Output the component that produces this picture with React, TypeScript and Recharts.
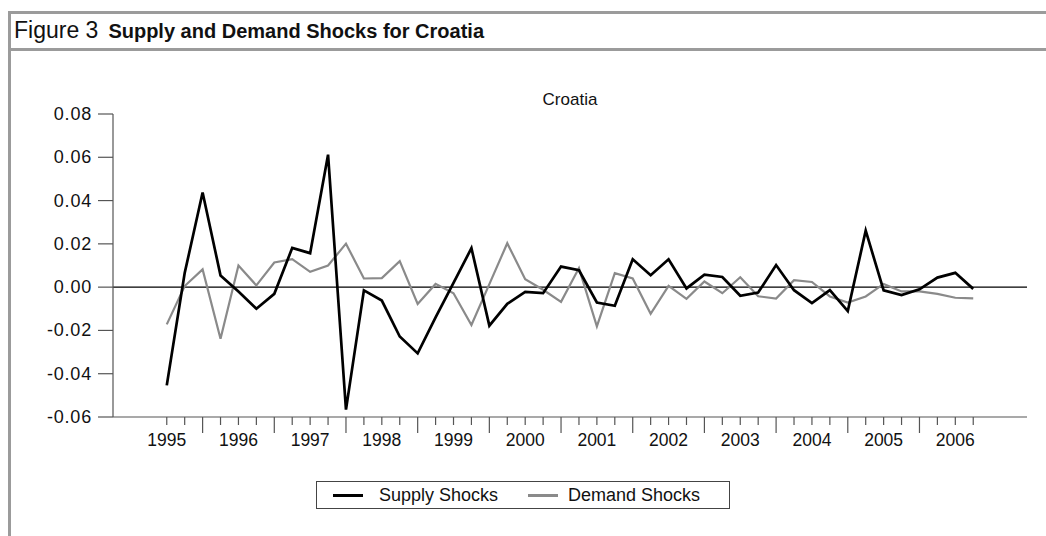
import React from 'react';
import { LineChart, Line, XAxis, YAxis, ReferenceLine } from 'recharts';

const supply = [
  -0.0454, 0.0065, 0.0437, 0.0054, -0.002, -0.0100, -0.0031, 0.0181, 0.0157, 0.0612,
  -0.0566, -0.0015, -0.0062, -0.0228, -0.0306, -0.014, 0.002, 0.0180, -0.0178, -0.0077,
  -0.0022, -0.0028, 0.0095, 0.0078, -0.0071, -0.0086, 0.0129, 0.0055, 0.0129, -0.0006,
  0.0058, 0.0047, -0.0040, -0.0025, 0.0102, -0.0014, -0.0074, -0.0014, -0.0111, 0.0261,
  -0.0015, -0.0037, -0.0010, 0.0044, 0.0066, -0.0008,
];

const demand = [
  -0.0172, 0.0005, 0.0082, -0.0238, 0.0100, 0.0008, 0.0114, 0.0129, 0.0071, 0.0100,
  0.0201, 0.0040, 0.0042, 0.0120, -0.0078, 0.0015, -0.0028, -0.0175, 0.0014, 0.0203,
  0.0037, -0.0012, -0.0068, 0.0088, -0.0181, 0.0065, 0.0040, -0.0123, 0.0006, -0.0054,
  0.0026, -0.0028, 0.0046, -0.0042, -0.0053, 0.0032, 0.0024, -0.0043, -0.0071, -0.0043,
  0.0015, -0.0020, -0.0020, -0.0031, -0.0049, -0.0052,
];

const yearLabels = ['1995', '1996', '1997', '1998', '1999', '2000', '2001', '2002', '2003', '2004', '2005', '2006'];
const yTicks = [-0.06, -0.04, -0.02, 0, 0.02, 0.04, 0.06, 0.08];
const seriesNames = ['Supply Shocks', 'Demand Shocks'];
const chartTitle = 'Croatia';

const data = supply.map((s, i) => ({ idx: i, supply: s, demand: demand[i] }));
const quarterTicks = supply.map((_, i) => i);

const FONT = '"Liberation Sans", Arial, sans-serif';

function XTick(props: any) {
  const { x, y, payload } = props;
  const i = payload.value as number;
  const major = i % 4 === 2;
  const label = i % 4 === 0 ? yearLabels[i / 4] : null;
  return (
    <g>
      <line x1={x} x2={x} y1={y} y2={y + (major ? 16 : 8)} stroke="#555" strokeWidth={1.2} />
      {label && (
        <text x={x} y={y + 29} textAnchor="middle" fontSize={17.5} fill="#111" fontFamily={FONT}>
          {label}
        </text>
      )}
    </g>
  );
}

function YTick(props: any) {
  const { x, y, payload } = props;
  return (
    <text x={x} y={y} dy={6} textAnchor="end" fontSize={18} fill="#111" fontFamily={FONT} letterSpacing={0.8}>
      {(payload.value as number).toFixed(2)}
    </text>
  );
}

export default function App() {
  return (
    <div style={{ position: 'fixed', left: 0, top: 0, width: 1046, height: 536, background: '#fff', overflow: 'hidden', fontFamily: FONT }}>
      <div style={{ position: 'absolute', left: 8, top: 11, width: 1100, height: 600, border: '3px solid #9b9b9b', boxSizing: 'border-box' }}>
        <div style={{ height: 37, borderBottom: '3px solid #9b9b9b', boxSizing: 'border-box', paddingLeft: 3, lineHeight: '33px', whiteSpace: 'nowrap', color: '#111' }}>
          <span style={{ fontSize: 23 }}>Figure 3</span>
          <span style={{ fontSize: 20, fontWeight: 'bold', marginLeft: 10 }}>Supply and Demand Shocks for Croatia</span>
        </div>
      </div>
      <div style={{ position: 'absolute', left: 470, top: 90, width: 200, textAlign: 'center', fontSize: 17, lineHeight: '20px', color: '#111' }}>
        {chartTitle}
      </div>
      <div style={{ position: 'absolute', left: 0, top: 0 }}>
        <LineChart width={1046} height={536} data={data} margin={{ top: 114, right: 19, left: 0, bottom: 79 }}>
          <XAxis
            dataKey="idx"
            type="number"
            domain={[-3, 48]}
            ticks={quarterTicks}
            interval={0}
            height={40}
            tickSize={0}
            tickMargin={0}
            tickLine={false}
            axisLine={{ stroke: '#555', strokeWidth: 1.2 }}
            tick={<XTick />}
            allowDataOverflow
          />
          <XAxis xAxisId="top" orientation="top" height={0} tick={false} tickLine={false} axisLine={{ stroke: '#111', strokeWidth: 1.2 }} />
          <YAxis
            type="number"
            domain={[-0.06, 0.08]}
            ticks={yTicks}
            interval={0}
            width={113}
            tickSize={15}
            tickMargin={6}
            tick={<YTick />}
            tickLine={{ stroke: '#555', strokeWidth: 1.2 }}
            axisLine={{ stroke: '#555', strokeWidth: 1.2 }}
            allowDataOverflow
          />
          <YAxis yAxisId="right" orientation="right" width={0} tick={false} tickLine={false} axisLine={{ stroke: '#111', strokeWidth: 1.2 }} />
          <ReferenceLine y={0} stroke="#000" strokeWidth={1.2} />
          <Line type="linear" dataKey="demand" name={seriesNames[1]} stroke="#8a8a8a" strokeWidth={2.2} dot={false} isAnimationActive={false} />
          <Line type="linear" dataKey="supply" name={seriesNames[0]} stroke="#000" strokeWidth={2.7} dot={false} isAnimationActive={false} />
        </LineChart>
      </div>
      <div style={{ position: 'absolute', left: 316, top: 481, width: 414, height: 28, border: '1px solid #444', boxSizing: 'border-box', fontSize: 18, color: '#111' }}>
        <div style={{ position: 'absolute', left: 16, top: 12, width: 30, height: 3, background: '#000' }} />
        <div style={{ position: 'absolute', left: 62, top: 2, lineHeight: '22px', whiteSpace: 'nowrap' }}>{seriesNames[0]}</div>
        <div style={{ position: 'absolute', left: 211, top: 12, width: 30, height: 3, background: '#8a8a8a' }} />
        <div style={{ position: 'absolute', left: 251, top: 2, lineHeight: '22px', whiteSpace: 'nowrap' }}>{seriesNames[1]}</div>
      </div>
    </div>
  );
}
